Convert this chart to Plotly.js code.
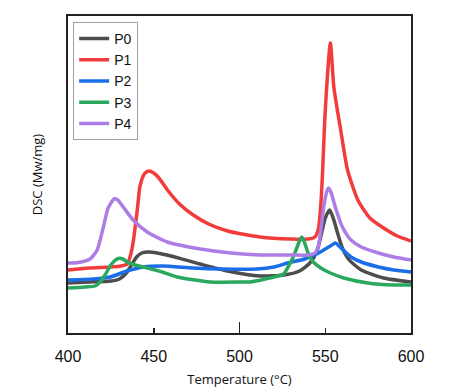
<!DOCTYPE html>
<html>
<head>
<meta charset="utf-8">
<script src="https://cdn.plot.ly/plotly-3.0.1.min.js"></script>
<style>html,body{margin:0;padding:0;background:#fff;}#chart{width:459px;height:392px;}</style>
</head>
<body>
<div id="chart"></div>
<script>
// Series names
const seriesNames = ["P0", "P1", "P2", "P3", "P4"];
// Temperatures (°C) and DSC signal (arbitrary units)
const tempP0 = [400,412,425,430,434,437,440,443,447,452,460,477,493,512,526,535,541,545,548,550,552.6,555,557,560,564,571,584,600];
const dscP0  = [50,51,52,54,60,68,76,80,81,80,77,69,62,57,58,62,70,81,101,115,123,113,101,85,73,63,55,51];

const tempP1 = [400,412,425,431,434.5,436.5,438,440.4,442,444.5,447,450,453,458,465,473,482,493,512,530,540,544,546,547.4,548.5,549.7,551.5,553,555,559,563,569,576,584,592,600];
const dscP1  = [63,65,66,67,69,78,91,123,147,159,162,160,155,143,129,118,109,102,96,94,94,96,104,128,163,213,263,290,246,203,163,133,115,105,97,92];

const tempP2 = [400,415,424.6,434.5,443.9,455,473,490,510,520,528,538,545,550,553,556,558,561,565,571,581,590,600];
const dscP2  = [53,54,56,62,66,67,65,64,64,66,70,74,79,84,87,90,87,82,76,71,66,63,61];

const tempP3 = [400,410,415.8,418.7,421.6,424.6,427,429.2,432,434.5,439,443.9,455,463.7,483,502,506,515,525.7,528,531.6,534.5,536.3,538,540.4,543,547.4,553,560.8,574.9,590,600];
const dscP3  = [45,46,47,51,58,67,72,74.5,74,71,68,66,61,56,51,51,51,54,59,65,77,90,96,90,78,71,65,60,55,50,48,48];

const tempP4 = [400,406,412.9,417,420.5,423.4,426.9,429,432.2,438,446.2,457.9,477.2,495,512,530,540,544,546,547.5,549,551,552,553.5,556,560,565,571,581,590,600];
const dscP4  = [70,70.5,74,83,105,125,134,133,126,113,101,91,84,80,78,78,78,80,87,103,125,142,145,140,125,106,93,86,80,76,73];

const xTickVals = [400, 450, 500, 550, 600];
const xTickText = ["400", "450", "500", "550", "600"];

const temps = [tempP0, tempP1, tempP2, tempP3, tempP4];
const dscs = [dscP0, dscP1, dscP2, dscP3, dscP4];
const colors = ["#4d4d4d", "#f23c3c", "#1a6ee8", "#2aa85e", "#ad7de6"];

const traces = seriesNames.map((name, i) => ({
  type: "scatter",
  mode: "lines",
  name: name,
  x: temps[i],
  y: dscs[i],
  line: {color: colors[i], width: 3.5, shape: "spline", smoothing: 0.6},
  hoverinfo: "skip"
}));
// helper trace to carry the long major ticks on an overlaid axis
traces.push({
  type: "scatter", mode: "lines", x: tempP0, y: dscP0, xaxis: "x2",
  showlegend: false, opacity: 0, hoverinfo: "skip", line: {width: 0}
});

const layout = {
  width: 459, height: 392,
  margin: {l: 68, r: 48, t: 16, b: 59},
  paper_bgcolor: "#fff", plot_bgcolor: "#fff",
  showlegend: true,
  xaxis: {
    range: [400, 600], tickmode: "array", tickvals: xTickVals, ticktext: xTickText,
    ticks: "inside", ticklen: 5, tickwidth: 1.5, tickcolor: "#222",
    ticklabelstandoff: 8,
    showline: true, linecolor: "#222", linewidth: 2, mirror: true,
    showgrid: false, zeroline: false,
    tickfont: {family: "Liberation Sans, Arial, sans-serif", size: 16, color: "#111"},
    title: {text: "Temperature (°C)", font: {family: "Open Sans, sans-serif", size: 13, color: "#111"}, standoff: 11}
  },
  xaxis2: {
    overlaying: "x", matches: "x", anchor: "y", side: "bottom",
    range: [400, 600], tickmode: "array", tickvals: [400, 500, 600],
    ticks: "inside", ticklen: 11, tickwidth: 1.5, tickcolor: "#222",
    showticklabels: false, showline: false, showgrid: false, zeroline: false
  },
  yaxis: {
    range: [0, 317], showticklabels: false, ticks: "",
    showline: true, linecolor: "#222", linewidth: 2, mirror: true,
    showgrid: false, zeroline: false,
    title: {text: "DSC (Mw/mg)", font: {family: "Open Sans, sans-serif", size: 13, color: "#111"}, standoff: 20}
  },
  legend: {
    x: 0.015, y: 0.981, xanchor: "left", yanchor: "top",
    bgcolor: "#fff", bordercolor: "#a0a0a0", borderwidth: 1,
    font: {family: "Liberation Sans, Arial, sans-serif", size: 14, color: "#111"},
    tracegroupgap: 0, itemwidth: 30,
    entrywidthmode: "pixels", entrywidth: 20
  }
};

Plotly.newPlot("chart", traces, layout, {staticPlot: true, displayModeBar: false});
</script>
</body>
</html>
